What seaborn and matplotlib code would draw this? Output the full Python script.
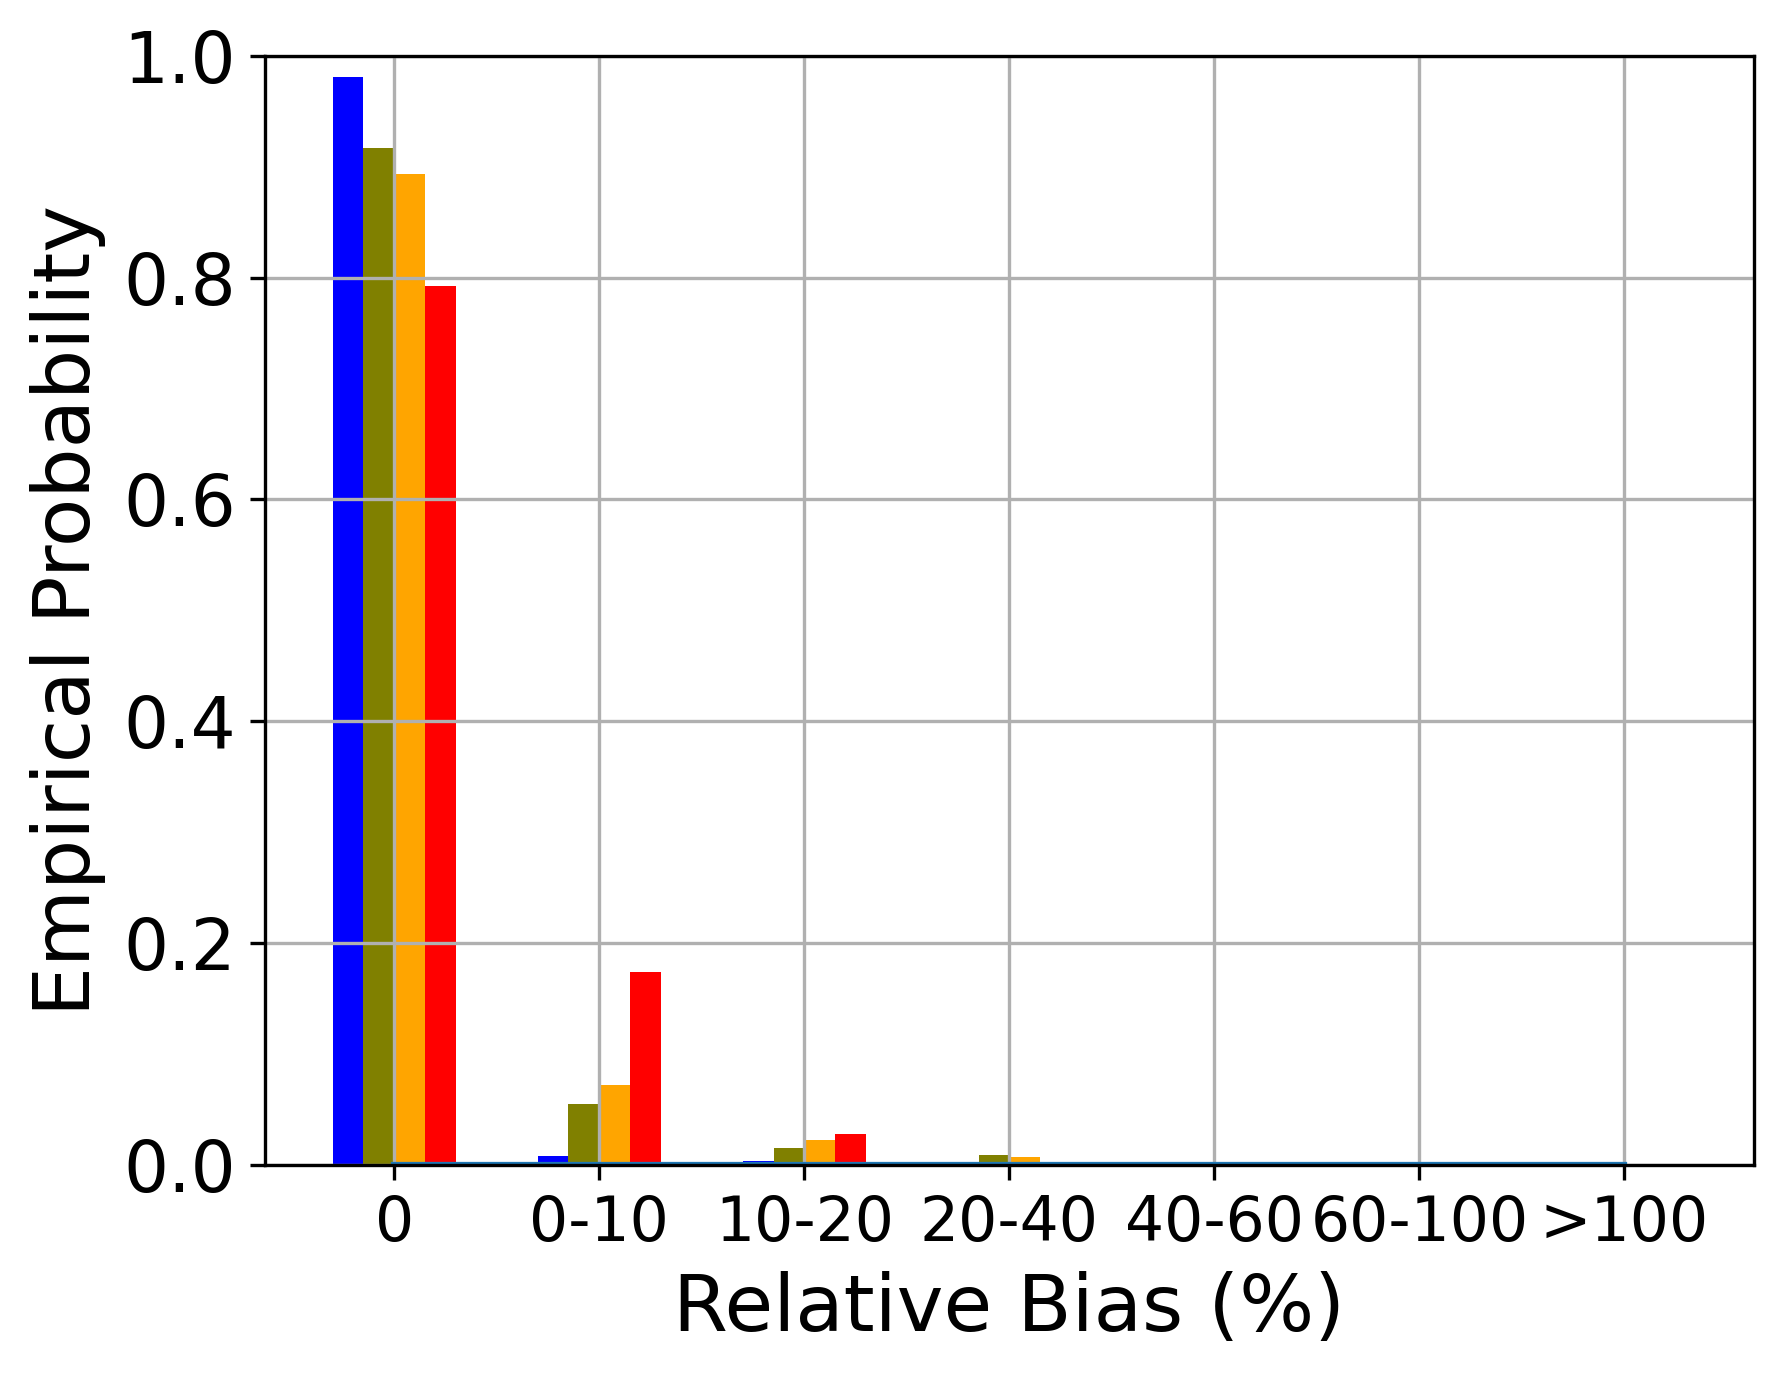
import numpy as np
import pandas as pd
import seaborn as sns
import matplotlib
matplotlib.use("Agg")
import matplotlib.pyplot as plt


categories = ['0', '0-10', '10-20', '20-40', '40-60', '60-100', '>100']
series = ['s1', 's2', 's3', 's4']
colors = ['blue', 'olive', 'orange', 'red']

s1_vals = [0.981, 0.008, 0.0036, 0.0005, 0.0, 0.0, 0.0]
s2_vals = [0.917, 0.055, 0.015, 0.009, 0.0, 0.0, 0.0]
s3_vals = [0.893, 0.072, 0.023, 0.007, 0.0, 0.0, 0.0]
s4_vals = [0.792, 0.174, 0.028, 0.002, 0.0, 0.0, 0.0]

# flat reference line along the bottom
ref_x = [0, 1, 2, 3, 4, 5, 6]
ref_y = [0.0, 0.0, 0.0, 0.0, 0.0, 0.0, 0.0]


def main():
    rows = []
    for name, vals in zip(series, [s1_vals, s2_vals, s3_vals, s4_vals]):
        for cat, v in zip(categories, vals):
            rows.append((cat, v, name))
    df = pd.DataFrame(rows, columns=['bias', 'prob', 'series'])

    fig = plt.figure(figsize=(5.94, 4.587), dpi=300)
    ax = fig.add_axes([0.1487, 0.1533, 0.8354, 0.8062])

    sns.barplot(data=df, x='bias', y='prob', hue='series',
                order=categories, hue_order=series, palette=colors,
                saturation=1, width=0.6, linewidth=0, errorbar=None,
                legend=False, ax=ax)
    ax.plot(ref_x, ref_y, color='#1f77b4', lw=1.5)

    ax.set_xlim(-0.63, 6.63)
    ax.set_ylim(0, 1.0)
    ax.set_yticks(np.arange(0, 1.01, 0.2))
    ax.grid(True)
    ax.set_axisbelow('line')

    ax.tick_params(axis='x', labelsize=14.8)
    ax.tick_params(axis='y', labelsize=17)
    ax.set_xlabel('Relative Bias (%)', fontsize=19)
    ax.set_ylabel('Empirical Probability', fontsize=19)

    fig.savefig('out.png', dpi=300)


if __name__ == "__main__":
    main()
